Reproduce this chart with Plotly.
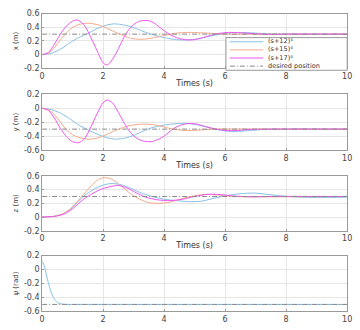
import plotly.graph_objects as go

# ---------------- data ----------------
series_names = ["(s+12)⁴", "(s+15)⁴", "(s+17)⁴"]
desired_name = "desired position"

# x (m)
x_t12 = [0, 0.3, 0.6, 0.9, 1.2, 1.5, 1.8, 2.1, 2.35, 2.6, 2.9, 3.2, 3.5, 3.8, 4.1, 4.4, 4.7, 5.0, 5.3, 5.6, 6.0, 6.4, 6.8, 7.2, 7.8, 8.5, 10]
x_v12 = [0, 0.02, 0.08, 0.17, 0.25, 0.31, 0.38, 0.43, 0.45, 0.44, 0.41, 0.36, 0.31, 0.27, 0.24, 0.22, 0.215, 0.225, 0.25, 0.28, 0.31, 0.325, 0.32, 0.31, 0.3, 0.3, 0.3]
x_t15 = [0, 0.2, 0.4, 0.6, 0.8, 1.0, 1.2, 1.5, 1.8, 2.0, 2.3, 2.6, 2.9, 3.2, 3.5, 3.8, 4.1, 4.4, 4.8, 5.2, 5.6, 6.0, 7.0, 10]
x_v15 = [0, 0.02, 0.1, 0.22, 0.32, 0.4, 0.44, 0.46, 0.44, 0.41, 0.35, 0.29, 0.24, 0.225, 0.235, 0.26, 0.29, 0.315, 0.325, 0.32, 0.31, 0.3, 0.3, 0.3]
x_t17 = [0, 0.2, 0.4, 0.6, 0.8, 1.0, 1.1, 1.2, 1.4, 1.6, 1.8, 2.0, 2.1, 2.2, 2.4, 2.6, 2.8, 3.0, 3.2, 3.44, 3.6, 3.8, 4.0, 4.2, 4.4, 4.6, 4.8, 5.0, 5.2, 5.5, 5.8, 6.1, 6.5, 7.0, 7.5, 8.0, 10]
x_v17 = [0, 0.03, 0.15, 0.3, 0.42, 0.49, 0.505, 0.5, 0.42, 0.25, 0.06, -0.12, -0.15, -0.13, 0.0, 0.18, 0.34, 0.44, 0.49, 0.5, 0.48, 0.42, 0.35, 0.29, 0.25, 0.225, 0.215, 0.22, 0.24, 0.28, 0.31, 0.325, 0.32, 0.305, 0.295, 0.3, 0.3]
x_desired = 0.3

# y (m)
y_t12 = [0, 0.3, 0.6, 0.9, 1.2, 1.5, 1.8, 2.1, 2.4, 2.7, 3.0, 3.3, 3.6, 3.9, 4.2, 4.5, 4.8, 5.1, 5.5, 5.9, 6.3, 6.8, 7.3, 8.0, 10]
y_v12 = [0, -0.02, -0.07, -0.15, -0.24, -0.31, -0.37, -0.42, -0.444, -0.43, -0.39, -0.33, -0.28, -0.25, -0.23, -0.22, -0.22, -0.24, -0.28, -0.32, -0.335, -0.32, -0.305, -0.3, -0.3]
y_t15 = [0, 0.2, 0.4, 0.6, 0.8, 1.0, 1.2, 1.5, 1.8, 2.1, 2.4, 2.7, 3.0, 3.35, 3.7, 4.0, 4.3, 4.7, 5.1, 5.6, 7.0, 10]
y_v15 = [0, -0.02, -0.09, -0.2, -0.31, -0.38, -0.42, -0.445, -0.43, -0.38, -0.32, -0.27, -0.24, -0.228, -0.24, -0.27, -0.3, -0.32, -0.315, -0.3, -0.3, -0.3]
y_t17 = [0, 0.2, 0.4, 0.6, 0.8, 1.0, 1.2, 1.4, 1.6, 1.8, 2.0, 2.13, 2.3, 2.5, 2.7, 2.9, 3.1, 3.35, 3.57, 3.8, 4.0, 4.2, 4.4, 4.6, 4.85, 5.1, 5.4, 5.7, 6.0, 6.4, 6.8, 7.5, 10]
y_v17 = [0, -0.03, -0.14, -0.29, -0.41, -0.48, -0.495, -0.43, -0.27, -0.08, 0.08, 0.117, 0.08, -0.06, -0.22, -0.35, -0.43, -0.475, -0.48, -0.45, -0.4, -0.33, -0.27, -0.235, -0.22, -0.23, -0.27, -0.3, -0.32, -0.32, -0.305, -0.3, -0.3]
y_desired = -0.3

# z (m)
z_t12 = [0, 0.4, 0.7, 1.0, 1.3, 1.6, 1.9, 2.25, 2.6, 2.9, 3.2, 3.6, 4.0, 4.4, 4.8, 5.2, 5.6, 6.0, 6.5, 6.95, 7.4, 7.9, 8.5, 9.0, 10]
z_v12 = [0, 0.01, 0.05, 0.14, 0.28, 0.38, 0.45, 0.49, 0.47, 0.42, 0.36, 0.3, 0.26, 0.24, 0.225, 0.23, 0.27, 0.31, 0.34, 0.35, 0.33, 0.305, 0.29, 0.285, 0.29]
z_t15 = [0, 0.4, 0.7, 1.0, 1.3, 1.6, 1.85, 2.05, 2.3, 2.6, 2.9, 3.2, 3.5, 3.85, 4.2, 4.6, 5.0, 5.4, 5.8, 6.3, 7.0, 10]
z_v15 = [0, 0.01, 0.05, 0.15, 0.3, 0.45, 0.55, 0.575, 0.55, 0.45, 0.34, 0.26, 0.21, 0.2, 0.22, 0.27, 0.31, 0.33, 0.32, 0.3, 0.295, 0.3]
z_t17 = [0, 0.4, 0.7, 1.0, 1.3, 1.6, 1.9, 2.2, 2.5, 2.8, 3.1, 3.4, 3.8, 4.2, 4.6, 5.0, 5.4, 5.8, 6.2, 6.8, 7.5, 10]
z_v17 = [0, 0.01, 0.04, 0.12, 0.24, 0.33, 0.4, 0.44, 0.46, 0.42, 0.35, 0.29, 0.25, 0.24, 0.26, 0.3, 0.33, 0.33, 0.31, 0.295, 0.3, 0.3]
z_desired = 0.3

# psi (rad)
psi_t = [0, 0.05, 0.1, 0.2, 0.3, 0.4, 0.5, 0.6, 0.8, 1.0, 10]
psi_v = [0.12, 0.08, 0.0, -0.18, -0.33, -0.42, -0.47, -0.49, -0.5, -0.5, -0.5]
psi_desired = -0.5

t_range = [0, 10]
x_ticks = [0, 2, 4, 6, 8, 10]
y_ticks_x = [-0.2, 0, 0.2, 0.4, 0.6]
y_ticks_y = [-0.6, -0.4, -0.2, 0, 0.2]
y_ticks_z = [-0.2, 0, 0.2, 0.4, 0.6]
y_ticks_psi = [-0.6, -0.4, -0.2, 0, 0.2]
y_labels = ["x (m)", "y (m)", "z (m)", "ψ (rad)"]
x_label = "Times (s)"

# ---------------- figure ----------------
W, H = 360, 330
colors = ["#86c0e6", "#f4a88a", "#ee55ee"]
desired_color = "#8a8a8a"
desired_dash = "5px,2px,1px,2px"

fig = go.Figure()

panels = [
    ([(x_t12, x_v12), (x_t15, x_v15), (x_t17, x_v17)], x_desired, y_ticks_x, (10, 67)),
    ([(y_t12, y_v12), (y_t15, y_v15), (y_t17, y_v17)], y_desired, y_ticks_y, (94, 152)),
    ([(z_t12, z_v12), (z_t15, z_v15), (z_t17, z_v17)], z_desired, y_ticks_z, (179, 236)),
    ([(psi_t, psi_v)], psi_desired, y_ticks_psi, (262, 320)),
]

def fmt(v):
    return "0" if abs(v) < 1e-9 else f"{v:.1f}"

font_family = "DejaVu Sans"
for i, (series, desired, yt, (ptop, pbot)) in enumerate(panels):
    ax = "" if i == 0 else str(i + 1)
    for j, (tt, vv) in enumerate(series):
        fig.add_trace(go.Scatter(
            x=tt, y=vv, mode="lines", line=dict(color=colors[j], width=1, shape="spline", smoothing=0.8),
            name=series_names[j], showlegend=False, xaxis="x" + ax, yaxis="y" + ax))
    fig.add_trace(go.Scatter(
        x=t_range, y=[desired, desired], mode="lines",
        line=dict(color=desired_color, width=1, dash=desired_dash),
        name=desired_name, showlegend=False, xaxis="x" + ax, yaxis="y" + ax))
    dom_y = [(H - pbot) / H, (H - ptop) / H]
    common = dict(showline=True, linecolor="#9a9a9a", linewidth=1, mirror=True,
                  showgrid=True, gridcolor="#e6e6e6", gridwidth=1, zeroline=False,
                  ticks="inside", ticklen=2, tickcolor="#9a9a9a",
                  tickfont=dict(family=font_family, size=8, color="#444"))
    fig.layout["xaxis" + ax] = dict(domain=[40 / W, 352 / W], range=t_range, tickvals=x_ticks,
                                    anchor="y" + ax,
                                    title=dict(text=x_label if i < 3 else "", standoff=0,
                                               font=dict(family=font_family, size=8, color="#333")),
                                    **common)
    fig.layout["yaxis" + ax] = dict(domain=dom_y, range=[yt[0], yt[-1]], tickvals=yt,
                                    ticktext=[fmt(v) for v in yt], anchor="x" + ax,
                                    title=dict(text=y_labels[i], standoff=4,
                                               font=dict(family=font_family, size=7, color="#333")),
                                    **common)

# compact legend inside the first panel (one multi-line text block + line samples)
lx0, lx1, ly0, ly1 = 228, 352, 35, 69
fs = 6.5
lh = 1.3 * fs
yc = (ly0 + ly1) / 2
shapes = [dict(type="rect", xref="paper", yref="paper",
               x0=lx0 / W, x1=lx1 / W, y0=(H - ly1) / H, y1=(H - ly0) / H,
               line=dict(color="#9a9a9a", width=1), fillcolor="white", layer="above")]
legend_items = list(zip(series_names, colors, ["solid"] * 3)) + [(desired_name, desired_color, desired_dash)]
for k, (nm, col, dsh) in enumerate(legend_items):
    yy = yc + (k - 1.5) * lh
    shapes.append(dict(type="line", xref="paper", yref="paper",
                       x0=(lx0 + 4) / W, x1=(lx0 + 38) / W, y0=(H - yy) / H, y1=(H - yy) / H,
                       line=dict(color=col, width=1, dash=dsh), layer="above"))
annotations = [dict(xref="paper", yref="paper", x=(lx0 + 42) / W, y=(H - yc) / H,
                    xanchor="left", yanchor="middle", align="left", borderpad=0,
                    text="<br>".join(nm for nm, _, _ in legend_items), showarrow=False,
                    font=dict(family=font_family, size=fs, color="#333"))]

fig.update_layout(
    width=W, height=H, margin=dict(l=0, r=0, t=0, b=0),
    paper_bgcolor="white", plot_bgcolor="white", showlegend=False,
    shapes=shapes, annotations=annotations,
)

fig.write_html("out.html")
